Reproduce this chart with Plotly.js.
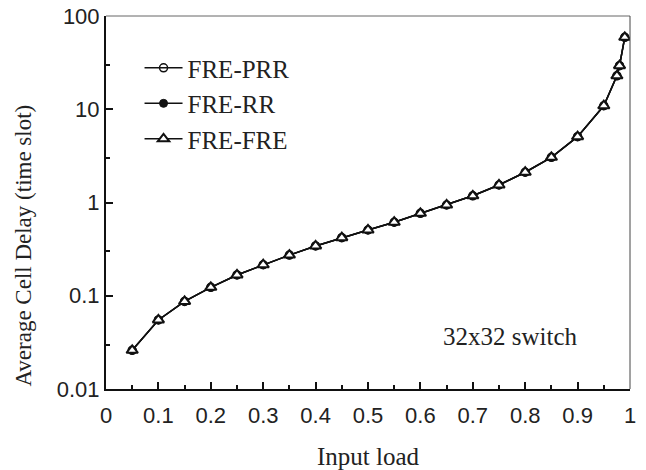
<!DOCTYPE html>
<html>
<head>
<meta charset="utf-8">
<script src="https://cdn.plot.ly/plotly-3.0.1.min.js"></script>
<style>html,body{margin:0;padding:0;background:#fff;}#chart{width:646px;height:470px;}</style>
</head>
<body>
<div id="chart"></div>
<script>
const inputLoad = [0.05,0.1,0.15,0.2,0.25,0.3,0.35,0.4,0.45,0.5,0.55,0.6,0.65,0.7,0.75,0.8,0.85,0.9,0.95,0.975,0.98,0.99];
const delayPRR = [0.026,0.055,0.087,0.123,0.167,0.215,0.273,0.342,0.42,0.507,0.614,0.766,0.94,1.18,1.54,2.11,3.05,5.08,10.9,22.8,29.3,59.1];
const delayRR  = [0.026,0.055,0.087,0.123,0.167,0.215,0.273,0.342,0.42,0.507,0.614,0.766,0.94,1.18,1.54,2.11,3.05,5.08,10.9,22.8,29.3,59.1];
const delayFRE = [0.026,0.055,0.087,0.123,0.167,0.215,0.273,0.342,0.42,0.507,0.614,0.766,0.94,1.18,1.54,2.11,3.05,5.08,10.9,22.8,29.3,59.1];
const seriesNames = ["FRE-PRR","FRE-RR","FRE-FRE"];
const xTickVals = [0,0.1,0.2,0.3,0.4,0.5,0.6,0.7,0.8,0.9,1];
const xTickText = ["0","0.1","0.2","0.3","0.4","0.5","0.6","0.7","0.8","0.9","1"];
const xMinorVals = [0.05,0.15,0.25,0.35,0.45,0.55,0.65,0.75,0.85,0.95];
const yTickVals = [0.01,0.1,1,10,100];
const yTickText = ["0.01","0.1","1","10","100"];
const yMinorVals = [0.03,0.3,3,30];
const xTitle = "Input load";
const yTitle = "Average Cell Delay (time slot)";
const noteText = "32x32 switch";

const serif = "Liberation Serif, Times New Roman, serif";
const sans = "Liberation Sans, Arial, sans-serif";

const traces = [
  {x: inputLoad, y: delayPRR, name: seriesNames[0], mode: "lines+markers",
   line: {color: "#111", width: 1.5},
   marker: {symbol: "circle-open", size: 8, color: "#111", line: {width: 1.5, color: "#111"}}},
  {x: inputLoad, y: delayRR, name: seriesNames[1], mode: "lines+markers",
   line: {color: "#111", width: 1.5},
   marker: {symbol: "circle", size: 8, color: "#111", line: {width: 1, color: "#111"}}},
  {x: inputLoad, y: delayFRE, name: seriesNames[2], mode: "lines+markers",
   line: {color: "#111", width: 1.5},
   marker: {symbol: "triangle-up", size: 10, color: "#fff", line: {width: 2, color: "#111"}}}
];

const layout = {
  width: 646, height: 470,
  margin: {l: 106, r: 16, t: 16, b: 81},
  paper_bgcolor: "#fff", plot_bgcolor: "#fff",
  showlegend: true,
  legend: {x: 0.064, y: 0.922, xanchor: "left", yanchor: "top", bgcolor: "rgba(0,0,0,0)",
           font: {family: serif, size: 25, color: "#222"}, itemwidth: 38, tracegroupgap: 0},
  xaxis: {
    range: [0, 1], tickmode: "array", tickvals: xTickVals, ticktext: xTickText,
    ticks: "inside", ticklen: 7, tickwidth: 2, tickcolor: "#111",
    showline: true, linecolor: "#111", linewidth: 2, showgrid: false, zeroline: false,
    tickfont: {family: sans, size: 22, color: "#222"},
    ticklabelposition: "outside", ticklabelstandoff: 6,
    minor: {tickmode: "array", tickvals: xMinorVals, ticks: "inside", ticklen: 4, tickwidth: 2, tickcolor: "#111", showgrid: false},
    title: {text: xTitle, font: {family: serif, size: 25, color: "#222"}, standoff: 34}
  },
  yaxis: {
    type: "log", range: [-2, 2], tickmode: "array", tickvals: yTickVals, ticktext: yTickText,
    ticks: "inside", ticklen: 7, tickwidth: 2, tickcolor: "#111",
    showline: true, linecolor: "#111", linewidth: 2, showgrid: false, zeroline: false,
    tickfont: {family: sans, size: 22, color: "#222"},
    minor: {tickmode: "array", tickvals: yMinorVals, ticks: "inside", ticklen: 4, tickwidth: 2, tickcolor: "#111", showgrid: false}
  },
  shapes: [
    {type: "line", xref: "paper", yref: "paper", x0: 0, x1: 1, y0: 1, y1: 1, line: {color: "#666", width: 1}},
    {type: "line", xref: "paper", yref: "paper", x0: 1, x1: 1, y0: 0, y1: 1, line: {color: "#444", width: 1}}
  ],
  annotations: [
    {xref: "paper", yref: "paper", x: 0.772, y: 0.142, xanchor: "center", yanchor: "middle",
     text: noteText, showarrow: false, font: {family: serif, size: 25, color: "#222"}},
    {xref: "paper", yref: "paper", x: -0.158, y: 0.385, xanchor: "center", yanchor: "middle",
     text: yTitle, textangle: -90, showarrow: false, font: {family: serif, size: 23, color: "#222"}}
  ]
};

Plotly.newPlot("chart", traces, layout, {displayModeBar: false, staticPlot: true});
</script>
</body>
</html>
